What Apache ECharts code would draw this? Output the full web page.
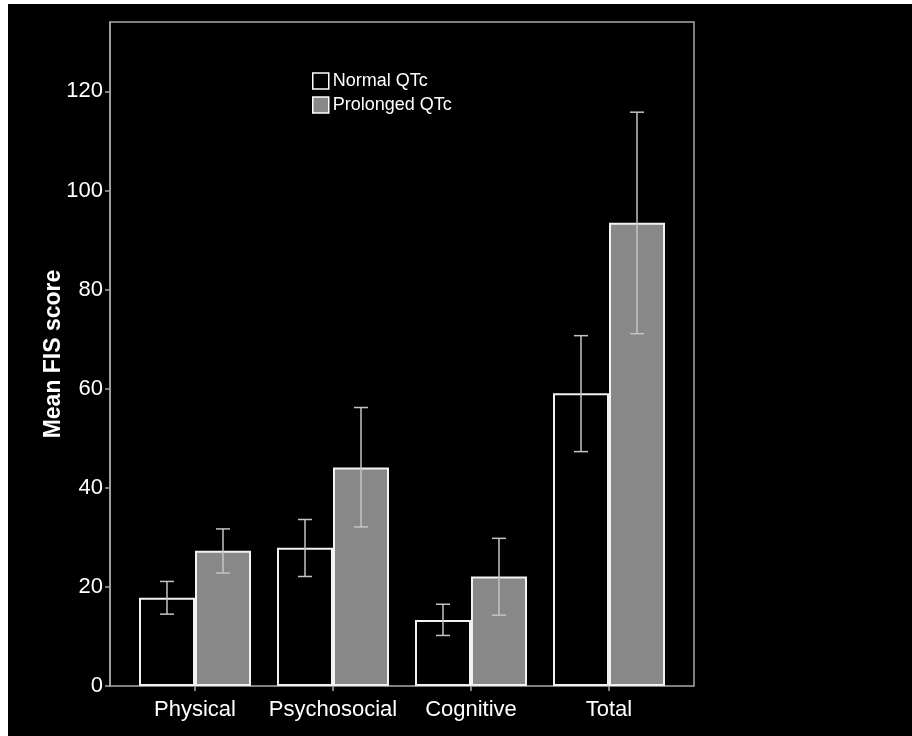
<!DOCTYPE html>
<html>
<head>
<meta charset="utf-8">
<script src="https://cdn.jsdelivr.net/npm/echarts@6/dist/echarts.min.js"></script>
<style>
html,body{margin:0;padding:0;background:#000;}
#c{width:912px;height:736px;}
</style>
</head>
<body>
<div id="c"></div>
<script>
var categories = ['Physical', 'Psychosocial', 'Cognitive', 'Total'];
var normalMean = [17.8, 27.9, 13.3, 59.1];
var normalLow = [14.5, 22.1, 10.2, 47.3];
var normalHigh = [21.1, 33.6, 16.5, 70.7];
var prolongedMean = [27.3, 44.1, 22.1, 93.5];
var prolongedLow = [22.8, 32.1, 14.3, 71.1];
var prolongedHigh = [31.7, 56.2, 29.8, 115.8];
var yTicks = [0, 20, 40, 60, 80, 100, 120];
var yTitle = 'Mean FIS score';

var FONT = 'Liberation Sans, Arial, sans-serif';
var chart = echarts.init(document.getElementById('c'));

function errData(lo, hi) {
  return categories.map(function (c, i) { return [i, lo[i], hi[i]]; });
}
function errRender(offset) {
  return function (params, api) {
    var x = api.value(0);
    var lo = api.coord([x, api.value(1)]);
    var hi = api.coord([x, api.value(2)]);
    var cx = lo[0] + offset;
    var cap = 7;
    var st = { stroke: '#c4c4c4', lineWidth: 1.5 };
    return {
      type: 'group',
      children: [
        { type: 'line', shape: { x1: cx, y1: hi[1], x2: cx, y2: lo[1] }, style: st },
        { type: 'line', shape: { x1: cx - cap, y1: hi[1], x2: cx + cap, y2: hi[1] }, style: st },
        { type: 'line', shape: { x1: cx - cap, y1: lo[1], x2: cx + cap, y2: lo[1] }, style: st }
      ]
    };
  };
}

chart.setOption({
  backgroundColor: '#000',
  animation: false,
  textStyle: { fontFamily: FONT },
  graphic: [
    { type: 'rect', shape: { x: 0, y: 0, width: 912, height: 4 }, style: { fill: '#fff' } },
    { type: 'rect', shape: { x: 0, y: 0, width: 8, height: 736 }, style: { fill: '#fff' } },
    {
      type: 'text', x: 54, y: 354, rotation: Math.PI / 2,
      style: { text: yTitle, fill: '#fff', font: 'bold 23px ' + FONT, textAlign: 'center', textVerticalAlign: 'middle' }
    }
  ],
  legend: {
    orient: 'vertical',
    left: 307, top: 67,
    itemWidth: 16, itemHeight: 16, itemGap: 6,
    icon: 'rect',
    textStyle: { color: '#fff', fontSize: 18, fontFamily: FONT, padding: [0, 0, 0, -1] },
    data: [
      { name: 'Normal QTc', itemStyle: { color: '#000', borderColor: '#fff', borderWidth: 1.5 } },
      { name: 'Prolonged QTc', itemStyle: { color: '#888', borderColor: '#fff', borderWidth: 1.5 } }
    ]
  },
  grid: [
    { left: 110, top: 22, width: 584, height: 664, show: true, borderColor: '#a8a8a8', borderWidth: 1.5, backgroundColor: 'transparent' },
    { left: 126, top: 22, width: 552, height: 664 }
  ],
  xAxis: [
    { gridIndex: 0, type: 'category', data: categories, show: false },
    {
      gridIndex: 1, type: 'category', data: categories,
      axisLine: { show: false },
      axisTick: { show: true, alignWithLabel: true, length: 5, lineStyle: { color: '#a8a8a8', width: 1.5 } },
      axisLabel: { color: '#fff', fontSize: 22, margin: 13, interval: 0, fontFamily: FONT }
    }
  ],
  yAxis: [
    {
      gridIndex: 0, type: 'value', min: 0, max: 134, interval: 20,
      axisLine: { show: true, lineStyle: { color: '#a8a8a8', width: 1.5 } },
      axisTick: { show: true, length: 5, customValues: yTicks, lineStyle: { color: '#a8a8a8', width: 1.5 } },
      axisLabel: {
        color: '#fff', fontSize: 22, margin: 7, fontFamily: FONT, customValues: yTicks,
        formatter: function (v) { return yTicks.indexOf(v) >= 0 ? String(v) : ''; }
      },
      splitLine: { show: false }
    },
    { gridIndex: 1, type: 'value', min: 0, max: 134, interval: 20, show: false, splitLine: { show: false } }
  ],
  series: [
    {
      name: 'Normal QTc', type: 'bar', xAxisIndex: 1, yAxisIndex: 1,
      data: normalMean, barWidth: 56, barGap: '0%',
      itemStyle: { color: '#000', borderColor: '#f2f2f2', borderWidth: 2 }
    },
    {
      name: 'Prolonged QTc', type: 'bar', xAxisIndex: 1, yAxisIndex: 1,
      data: prolongedMean, barWidth: 56, barGap: '0%',
      itemStyle: { color: '#888', borderColor: '#f2f2f2', borderWidth: 2 }
    },
    {
      name: 'errN', type: 'custom', xAxisIndex: 1, yAxisIndex: 1, z: 10,
      data: errData(normalLow, normalHigh), renderItem: errRender(-28),
      encode: { x: 0, y: [1, 2] }, silent: true
    },
    {
      name: 'errP', type: 'custom', xAxisIndex: 1, yAxisIndex: 1, z: 10,
      data: errData(prolongedLow, prolongedHigh), renderItem: errRender(28),
      encode: { x: 0, y: [1, 2] }, silent: true
    }
  ]
});
</script>
</body>
</html>
